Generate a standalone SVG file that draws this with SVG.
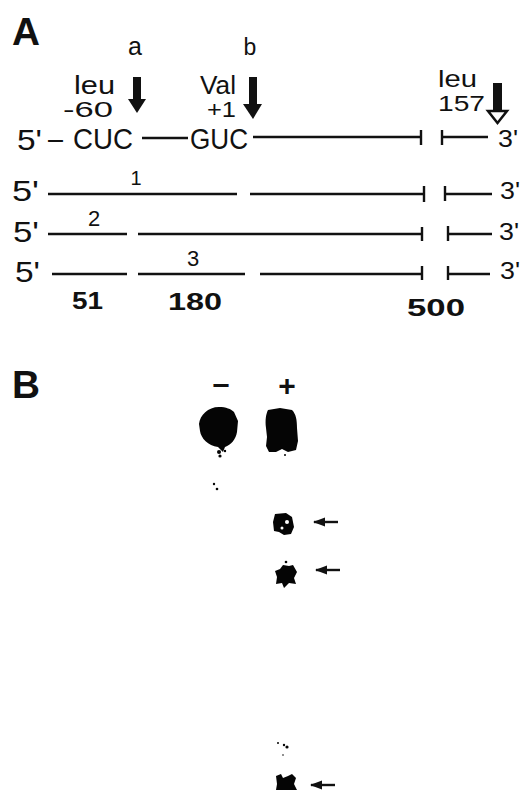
<svg xmlns="http://www.w3.org/2000/svg" width="521" height="790" viewBox="0 0 521 790">
<defs>
<style>
.t{font-family:"Liberation Sans","DejaVu Sans",sans-serif;fill:#111}
.b{font-weight:bold}
.ln{stroke:#111;stroke-width:2.4;fill:none}
.tk{stroke:#111;stroke-width:2.4}
.blob{fill:#050505}
</style>
<marker id="ah" markerWidth="12" markerHeight="10" refX="11" refY="5" orient="auto" markerUnits="userSpaceOnUse">
<path d="M0,0.5 L12,5 L0,9.5 Z" fill="#111"/>
</marker>
</defs>
<rect width="521" height="790" fill="#fff"/>

<g id="panelA-label"><text class="t b" x="12" y="45" font-size="38" textLength="28" lengthAdjust="spacingAndGlyphs">A</text></g>

<g id="site-a">
<text class="t" x="135" y="55" font-size="25" text-anchor="middle">a</text>
<text class="t" x="74" y="94" font-size="25" textLength="41" lengthAdjust="spacingAndGlyphs">leu</text>
<text class="t" x="63" y="117" font-size="22" textLength="50" lengthAdjust="spacingAndGlyphs">-60</text>
</g>
<g id="site-b">
<text class="t" x="250" y="55" font-size="23" text-anchor="middle">b</text>
<text class="t" x="200" y="94" font-size="25" textLength="36" lengthAdjust="spacingAndGlyphs">Val</text>
<text class="t" x="207" y="117" font-size="22" textLength="29" lengthAdjust="spacingAndGlyphs">+1</text>
</g>
<g id="site-157">
<text class="t" x="438" y="87" font-size="24" textLength="39" lengthAdjust="spacingAndGlyphs">leu</text>
<text class="t" x="438" y="111" font-size="22" textLength="47" lengthAdjust="spacingAndGlyphs">157</text>
</g>

<g id="row0">
<text class="t" x="17" y="150" font-size="30" textLength="25" lengthAdjust="spacingAndGlyphs">5'</text>
<text class="t" x="48" y="149" font-size="30" textLength="15" lengthAdjust="spacingAndGlyphs">–</text>
<text class="t" x="73" y="149" font-size="30" textLength="60" lengthAdjust="spacingAndGlyphs">CUC</text>
<text class="t" x="190" y="149" font-size="30" textLength="58" lengthAdjust="spacingAndGlyphs">GUC</text>
<text class="t" x="498" y="147" font-size="24" textLength="20" lengthAdjust="spacingAndGlyphs">3'</text>
</g>
<g id="row1">
<text class="t" x="12" y="201" font-size="30" textLength="27" lengthAdjust="spacingAndGlyphs">5'</text>
<text class="t" x="136" y="185" font-size="20" text-anchor="middle">1</text>
<text class="t" x="500" y="199" font-size="24" textLength="20" lengthAdjust="spacingAndGlyphs">3'</text>
</g>
<g id="row2">
<text class="t" x="13" y="242" font-size="30" textLength="26" lengthAdjust="spacingAndGlyphs">5'</text>
<text class="t" x="94" y="226" font-size="22" text-anchor="middle">2</text>
<text class="t" x="499" y="240" font-size="24" textLength="20" lengthAdjust="spacingAndGlyphs">3'</text>
</g>
<g id="row3">
<text class="t" x="15" y="282" font-size="30" textLength="25" lengthAdjust="spacingAndGlyphs">5'</text>
<text class="t" x="193" y="266" font-size="22" text-anchor="middle">3</text>
<text class="t" x="500" y="279" font-size="24" textLength="20" lengthAdjust="spacingAndGlyphs">3'</text>
</g>
<g id="scale">
<text class="t b" x="72" y="309" font-size="24" textLength="31" lengthAdjust="spacingAndGlyphs">51</text>
<text class="t b" x="168" y="310" font-size="24" textLength="54" lengthAdjust="spacingAndGlyphs">180</text>
<text class="t b" x="407" y="316" font-size="24" textLength="58" lengthAdjust="spacingAndGlyphs">500</text>
</g>

<g id="connectors">
<rect x="133" y="77" width="8" height="23" fill="#111"/>
<polygon points="128,99 146,99 137,113" fill="#111"/>
<rect x="249" y="77" width="8" height="28" fill="#111"/>
<polygon points="243,104 262,104 253,119" fill="#111"/>
<rect x="493" y="83" width="9" height="27" fill="#111"/>
<polygon points="488,111 507,111 497.5,123" fill="#fff" stroke="#111" stroke-width="2.5"/>
<line class="ln" x1="142" y1="138" x2="188" y2="138"/>
<line class="ln" x1="253" y1="137" x2="421" y2="137"/>
<line class="tk" x1="421" y1="130" x2="421" y2="145"/>
<line class="tk" x1="442" y1="130" x2="442" y2="145"/>
<line class="ln" x1="442" y1="137" x2="488" y2="137"/>
<line class="ln" x1="48" y1="194" x2="237" y2="194"/>
<line class="ln" x1="250" y1="194" x2="424" y2="194"/>
<line class="tk" x1="424" y1="186" x2="424" y2="202"/>
<line class="tk" x1="445" y1="186" x2="445" y2="201"/>
<line class="ln" x1="445" y1="194" x2="492" y2="194"/>
<line class="ln" x1="48" y1="234" x2="127" y2="234"/>
<line class="ln" x1="138" y1="234" x2="422" y2="234"/>
<line class="tk" x1="422" y1="227" x2="422" y2="241"/>
<line class="tk" x1="448" y1="226" x2="448" y2="241"/>
<line class="ln" x1="448" y1="234" x2="492" y2="234"/>
<line class="ln" x1="52" y1="274" x2="127" y2="274"/>
<line class="ln" x1="138" y1="274" x2="245" y2="274"/>
<line class="ln" x1="260" y1="274" x2="422" y2="274"/>
<line class="tk" x1="422" y1="266" x2="422" y2="280"/>
<line class="tk" x1="448" y1="266" x2="448" y2="280"/>
<line class="ln" x1="448" y1="274" x2="490" y2="274"/>
<line class="ln" x1="338" y1="522" x2="314" y2="522" marker-end="url(#ah)"/>
<line class="ln" x1="340" y1="570" x2="316" y2="570" marker-end="url(#ah)"/>
<line class="ln" x1="335" y1="785" x2="311" y2="785" marker-end="url(#ah)"/>
</g>

<g id="panelB-label"><text class="t b" x="12" y="398" font-size="38" textLength="28" lengthAdjust="spacingAndGlyphs">B</text></g>
<g id="lane-labels">
<text class="t b" x="221" y="394" font-size="30" text-anchor="middle" textLength="17" lengthAdjust="spacingAndGlyphs">–</text>
<text class="t b" x="287" y="396" font-size="30" text-anchor="middle">+</text>
</g>

<g id="lane-minus">
<path class="blob" d="M219,407 C226,407 231,409 234,412 L238,421 L237,432 C236,439 231,445 225,447 L223,452 L218,447 C208,446 201,438 200,431 L199,424 C200,415 208,407 219,407 Z"/>
<circle class="blob" cx="219" cy="452" r="2"/>
<circle class="blob" cx="220" cy="456" r="1.6"/>
<circle class="blob" cx="225" cy="451" r="1.2"/>
<circle class="blob" cx="214" cy="484" r="1.2"/>
<circle class="blob" cx="217" cy="489" r="1.3"/>
</g>
<g id="lane-plus">
<path class="blob" d="M268,410 L280,408 L292,410 C296,414 297,420 297,428 L298,441 L296,450 L288,452 L282,449 L276,452 L269,452 L266,446 L267,437 L266,428 C265,420 266,414 268,410 Z"/>
<circle class="blob" cx="285" cy="455" r="1"/>
<path class="blob" d="M275,514 L286,513 L292,517 L294,527 L291,534 L284,535 L279,532 L274,531 L273,522 Z"/>
<circle cx="287" cy="522" r="2" fill="#fff"/>
<circle cx="282" cy="528" r="1.5" fill="#fff"/>
<path class="blob" d="M283,565 L289,566 L293,565 L297,572 L294,578 L296,584 L289,583 L284,588 L282,583 L276,584 L277,577 L275,571 L280,569 Z"/>
<circle class="blob" cx="286" cy="562" r="1.3"/>
<circle class="blob" cx="278" cy="743" r="1"/>
<circle class="blob" cx="284" cy="745" r="1.2"/>
<circle class="blob" cx="287" cy="747" r="1.6"/>
<circle class="blob" cx="283" cy="755" r="0.8"/>
<path class="blob" d="M276,776 L281,774 L283,778 L288,776 L292,774 L296,778 L294,784 L297,790 L276,790 L277,784 Z"/>
</g>
</svg>
